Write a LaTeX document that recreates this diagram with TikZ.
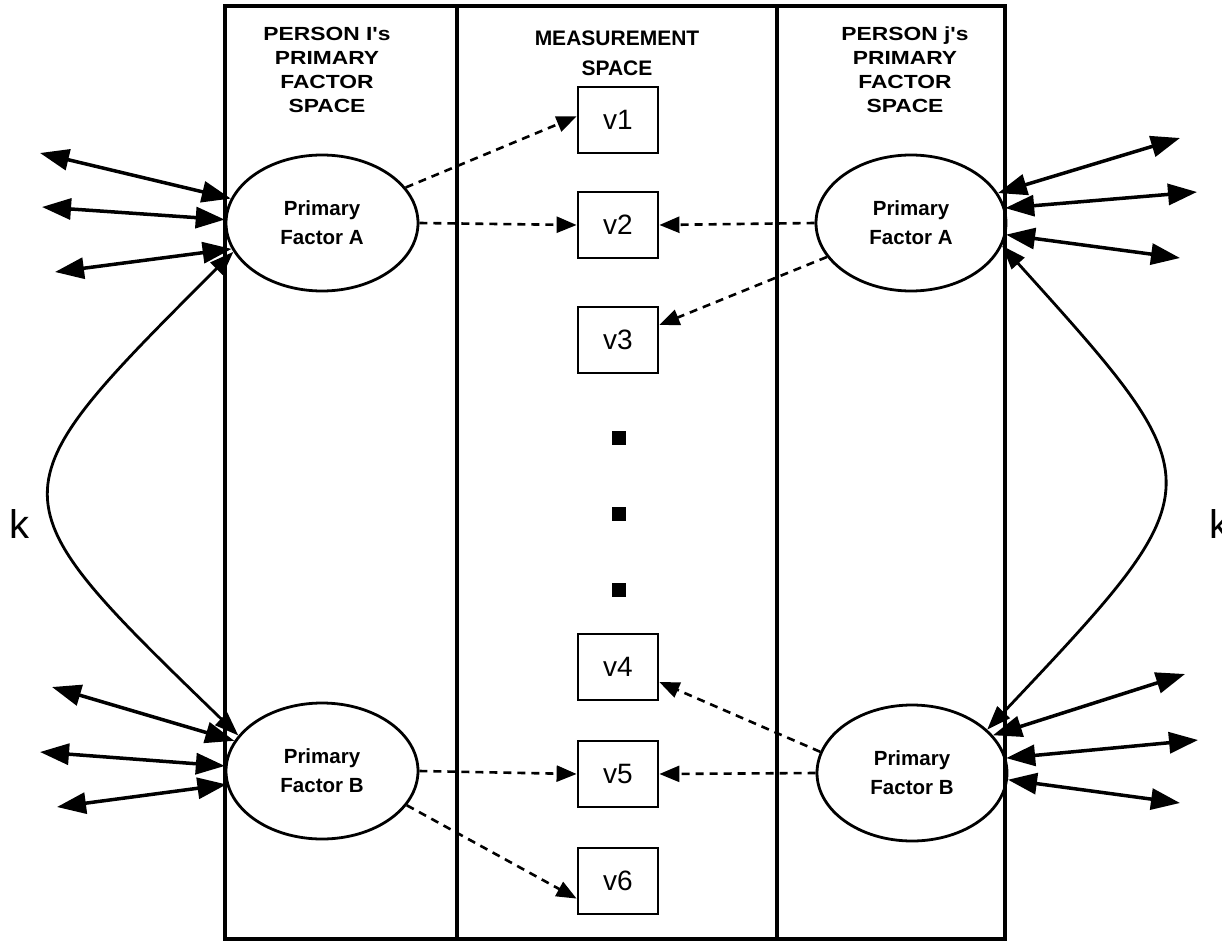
\documentclass[tikz,border=0pt]{standalone}
\usepackage{fontspec}
\setmainfont{Liberation Sans}
\newfontfamily\headfont[FakeStretch=1.2]{Liberation Sans}
\usetikzlibrary{arrows.meta,shapes.geometric}
\begin{document}
\begin{tikzpicture}[x=1pt,y=-1pt,
  frame/.style={line width=3.2pt},
  factor/.style={ellipse, draw, line width=2.8pt, minimum width=192pt, minimum height=136pt, inner sep=0pt, font=\fontsize{20.5}{29}\selectfont\bfseries, align=center},
  var/.style={rectangle, draw, line width=2.8pt, minimum width=80pt, minimum height=66pt, inner sep=0pt, font=\fontsize{28}{30}\selectfont},
  head/.style={font=\headfont\fontsize{19}{24}\selectfont\bfseries, align=center, inner sep=0pt, anchor=north},
  dbl/.style={line width=3.5pt, {Triangle[length=29pt,width=21pt]}-{Triangle[length=29pt,width=21pt]}},
  dsh/.style={line width=2.6pt, dash pattern=on 8pt off 6pt, -{Triangle[length=20pt,width=16pt]}},
  curv/.style={line width=2.8pt, {Triangle[length=24pt,width=17pt]}-{Triangle[length=24pt,width=17pt]}},
  dot/.style={fill, minimum size=14pt, inner sep=0pt},
  klab/.style={font=\fontsize{40}{40}\selectfont, inner sep=0pt, anchor=base west},
]
\useasboundingbox (0,0) rectangle (1222,941);

% frame
\draw[frame] (225,6) rectangle (1005,939);
\draw[frame] (457,6) -- (457,939);
\draw[frame] (777,6) -- (777,939);

% headers
\node[head] (hl) at (327,27) {PERSON I's\\PRIMARY\\FACTOR\\SPACE};
\node[head, font=\fontsize{21}{30}\selectfont\bfseries] (hm) at (617,31) {MEASUREMENT\\SPACE};
\node[head] (hr) at (905,27) {PERSON j's\\PRIMARY\\FACTOR\\SPACE};

% factors
\node[factor] (lA) at (322,223) {Primary\\Factor A};
\node[factor] (lB) at (322,771) {Primary\\Factor B};
\node[factor, minimum width=190pt] (rA) at (911,223) {Primary\\Factor A};
\node[factor, minimum width=190pt] (rB) at (912,773) {Primary\\Factor B};

% measurement variables
\node[var] (v1) at (618,120) {v1};
\node[var] (v2) at (618,225) {v2};
\node[var] (v3) at (618,340) {v3};
\node[var] (v4) at (618,667) {v4};
\node[var] (v5) at (618,774) {v5};
\node[var] (v6) at (618,881) {v6};

\node[dot] (d1) at (619,438) {};
\node[dot] (d2) at (619,514) {};
\node[dot] (d3) at (619,590) {};

% free ends of the residual arrows
\coordinate (la1) at (40,153);
\coordinate (la2) at (42,207);
\coordinate (la3) at (55,272);
\coordinate (lb1) at (52,687);
\coordinate (lb2) at (40,752);
\coordinate (lb3) at (57,807);
\coordinate (ra1) at (1180,138);
\coordinate (ra2) at (1197,192);
\coordinate (ra3) at (1180,258);
\coordinate (rb1) at (1185,674);
\coordinate (rb2) at (1198,740);
\coordinate (rb3) at (1180,803);

\draw[dbl] (la1) -- (lA.165);
\draw[dbl] (la2) -- (lA.178);
\draw[dbl] (la3) -- (lA.196);
\draw[dbl] (lb1) -- (lB.161);
\draw[dbl] (lb2) -- (lB.177);
\draw[dbl] (lb3) -- (lB.188);
\draw[dbl] (ra1) -- (rA.19);
\draw[dbl] (ra2) -- (rA.9);
\draw[dbl] (ra3) -- (rA.-7);
\draw[dbl] (rb1) -- (rB.25);
\draw[dbl] (rb2) -- (rB.9);
\draw[dbl] (rb3) -- (rB.-4);

% k correlations
\draw[curv] (lA.198) .. controls (-10,495) and (-10,495) .. (lB.157);
\draw[curv] (rA.-14) .. controls (1218,485) and (1218,485) .. (rB.30);
\node[klab] (kl) at (9,538) {k};
\node[klab] (kr) at (1209,538) {k};

% loadings
\draw[dsh] (lA.23) -- (v1.175);
\draw[dsh] (lA.east) -- (v2.west);
\draw[dsh] (rA.west) -- (v2.east);
\draw[dsh] (rA.202) -- (v3.20);
\draw[dsh] (rB.167) -- (v4.-20);
\draw[dsh] (rB.west) -- (v5.east);
\draw[dsh] (lB.east) -- (v5.west);
\draw[dsh] (lB.-22) -- (v6.203);
\end{tikzpicture}
\end{document}
